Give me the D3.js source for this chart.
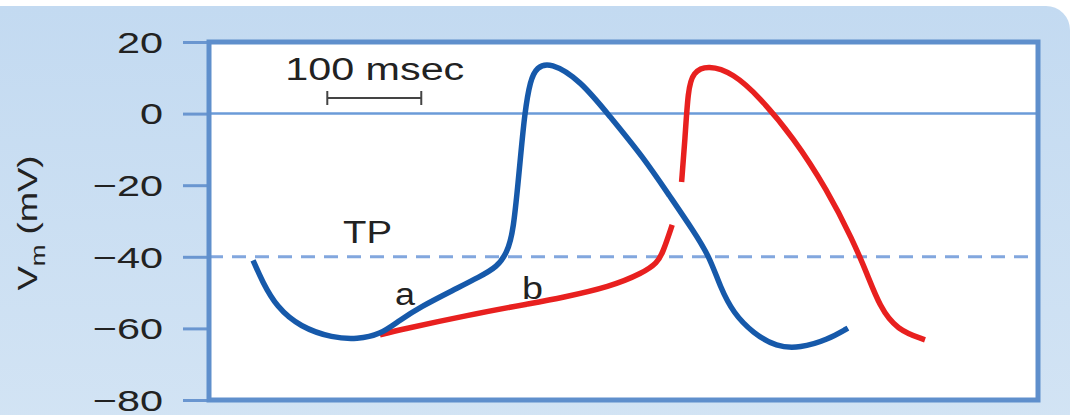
<!DOCTYPE html>
<html lang="en">
<head>
<meta charset="UTF-8">
<title>Pacemaker potentials</title>
<script src="https://d3js.org/d3.v7.min.js"></script>
<style>
  body { margin: 0; background: #fff; }
  text { font-family: "Liberation Sans", Arial, sans-serif; fill: #222; }
</style>
</head>
<body>
<script>
// time in msec, membrane potential in mV
var blueT = [49, 59, 74, 99, 134, 160, 184, 205, 227, 262, 290, 309, 319, 326, 333, 338, 344, 351, 365, 397, 429, 464, 493, 517, 535, 546, 560, 581, 606, 631, 660, 682];
var blueV = [-41, -47, -54, -59.6, -62.7, -63, -61.8, -57.7, -54, -49.3, -45.6, -42.8, -38.9, -33.4, -13.8, 0.2, 9.4, 13, 14.4, 9.4, -0.9, -12.1, -23.3, -32.5, -40.1, -48.4, -55.7, -61.3, -65.2, -65.5, -63.2, -59.9];

// red trace is broken where the blue one crosses it
var redT1 = [184, 205, 277, 347, 376, 429, 464, 479, 485, 495];
var redV1 = [-61.8, -60.4, -56.3, -52.9, -51.5, -48.4, -44.5, -41.7, -38.9, -31.1];
var redT2 = [505, 508.6, 511.8, 517, 533, 560, 588, 623.5, 660, 687, 702, 716, 734, 764];
var redV2 = [-19.1, -7.4, 6.6, 11.6, 13.6, 11.3, 4.6, -6.5, -21.3, -35.3, -44.5, -54, -60.4, -63.2];

var yTicks = [20, 0, -20, -40, -60, -80];
var threshold = -40;
var scaleBar = [128, 228];   // 100 msec

var W = 1070, H = 415;
var frame = {left: 209, right: 1038, top: 42, bottom: 400};

var svg = d3.select("body").append("svg")
  .attr("width", W).attr("height", H);

// light blue panel behind the chart
var grad = svg.append("defs").append("linearGradient")
  .attr("id", "bg").attr("x1", 0).attr("y1", 0).attr("x2", 0).attr("y2", 1);
grad.append("stop").attr("offset", "0%").attr("stop-color", "#c3daf1");
grad.append("stop").attr("offset", "100%").attr("stop-color", "#d3e4f4");
svg.append("rect")
  .attr("x", -30).attr("y", 6).attr("width", 1100).attr("height", 440)
  .attr("rx", 24).attr("fill", "url(#bg)");

var x = d3.scaleLinear().domain([0, 880]).range([207, 1034]);
var y = d3.scaleLinear().domain([-80, 20]).range([400, 42]);

// plot area
svg.append("rect")
  .attr("x", frame.left).attr("y", frame.top)
  .attr("width", frame.right - frame.left).attr("height", frame.bottom - frame.top)
  .attr("fill", "#fff");

// zero line and threshold (TP)
svg.append("line")
  .attr("x1", frame.left).attr("x2", frame.right)
  .attr("y1", y(0)).attr("y2", y(0))
  .attr("stroke", "#6b9bd8").attr("stroke-width", 2.5);
svg.append("line")
  .attr("x1", frame.left).attr("x2", frame.right)
  .attr("y1", y(threshold)).attr("y2", y(threshold))
  .attr("stroke", "#82a7de").attr("stroke-width", 3)
  .attr("stroke-dasharray", "14,9");

// y axis
var axis = svg.append("g")
  .attr("transform", "translate(" + frame.left + ",0)")
  .call(d3.axisLeft(y).tickValues(yTicks).tickSize(26).tickPadding(0));
axis.select(".domain").remove();
axis.selectAll(".tick line").attr("stroke", "#6a96d0").attr("stroke-width", 3);
axis.selectAll(".tick text")
  .attr("x", null).attr("dy", "0.34em")
  .attr("transform", "translate(-46,0) scale(1.38,1)")
  .style("font-size", "30px").attr("fill", "#222");

// frame on top of the grid lines
svg.append("rect")
  .attr("x", frame.left).attr("y", frame.top)
  .attr("width", frame.right - frame.left).attr("height", frame.bottom - frame.top)
  .attr("fill", "none").attr("stroke", "#5f8fcc").attr("stroke-width", 5);

// axis title
var yl = svg.append("text")
  .attr("transform", "translate(37,223) rotate(-90)")
  .attr("text-anchor", "middle")
  .attr("textLength", 135).attr("lengthAdjust", "spacingAndGlyphs")
  .style("font-size", "28px");
yl.append("tspan").text("V");
yl.append("tspan").attr("dy", 8).style("font-size", "20px").text("m");
yl.append("tspan").attr("dy", -8).text(" (mV)");

// traces - basis spline smooths out the reading noise
var line = d3.line()
  .x(function(d) { return x(d[0]); })
  .y(function(d) { return y(d[1]); })
  .curve(d3.curveBasis);

function pts(t, v) { return t.map(function(d, i) { return [d, v[i]]; }); }

[[redT1, redV1], [redT2, redV2]].forEach(function(s) {
  svg.append("path")
    .attr("d", line(pts(s[0], s[1])))
    .attr("fill", "none").attr("stroke", "#e8201f")
    .attr("stroke-width", 5.5).attr("stroke-linecap", "butt");
});
svg.append("path")
  .attr("d", line(pts(blueT, blueV)))
  .attr("fill", "none").attr("stroke", "#1659aa")
  .attr("stroke-width", 5.5).attr("stroke-linecap", "butt");

// time scale bar
var sb = svg.append("g").attr("stroke", "#444").attr("stroke-width", 2);
sb.append("line").attr("x1", x(scaleBar[0])).attr("x2", x(scaleBar[1]))
  .attr("y1", 98).attr("y2", 98);
scaleBar.forEach(function(t) {
  sb.append("line").attr("x1", x(t)).attr("x2", x(t)).attr("y1", 91).attr("y2", 105);
});
svg.append("text")
  .attr("x", x(d3.mean(scaleBar)) - 89).attr("y", 80)
  .attr("textLength", 179).attr("lengthAdjust", "spacingAndGlyphs")
  .style("font-size", "31px").text("100 msec");

// labels
svg.append("text").attr("x", 343).attr("y", 243)
  .attr("textLength", 49).attr("lengthAdjust", "spacingAndGlyphs")
  .style("font-size", "31px").text("TP");
svg.append("text").attr("x", 395).attr("y", 305)
  .attr("textLength", 20).attr("lengthAdjust", "spacingAndGlyphs")
  .style("font-size", "31px").text("a");
svg.append("text").attr("x", 522).attr("y", 299)
  .attr("textLength", 21).attr("lengthAdjust", "spacingAndGlyphs")
  .style("font-size", "31px").text("b");
</script>
</body>
</html>
